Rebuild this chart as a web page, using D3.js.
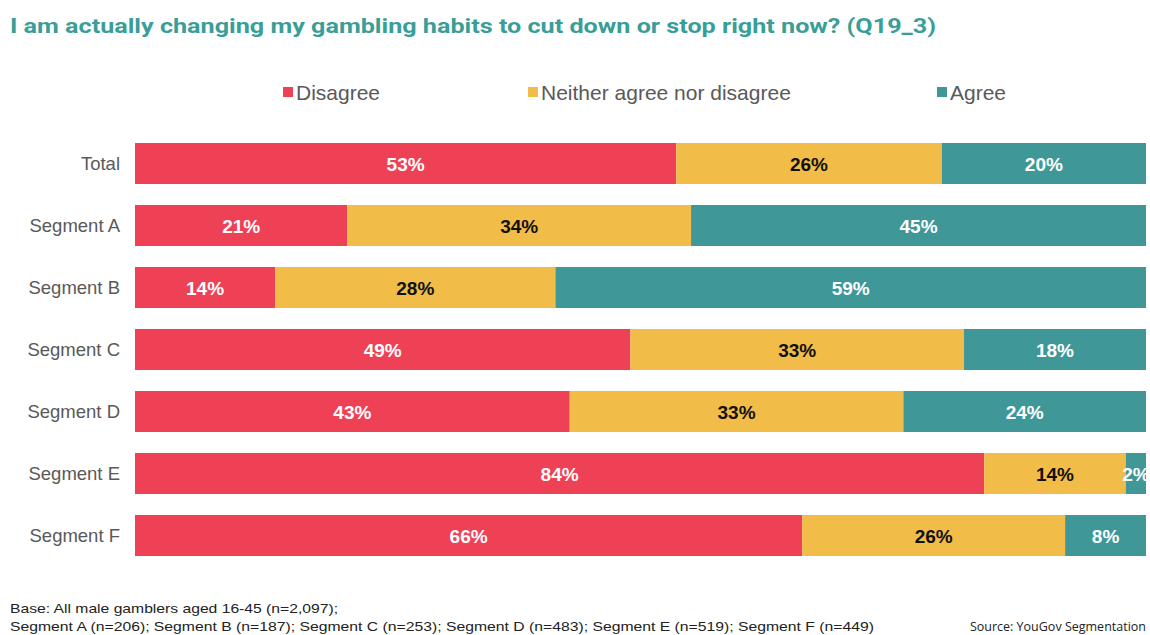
<!DOCTYPE html>
<html>
<head>
<meta charset="utf-8">
<script src="https://cdn.jsdelivr.net/npm/d3@7"></script>
<style>
  body { margin: 0; background: #fff; }
  svg { display: block; }
</style>
</head>
<body>
<svg id="chart" width="1150" height="635"></svg>
<script>
const categories = ["Total", "Segment A", "Segment B", "Segment C", "Segment D", "Segment E", "Segment F"];
const seriesNames = ["Disagree", "Neither agree nor disagree", "Agree"];
const disagree = [53, 21, 14, 49, 43, 84, 66];
const neither  = [26, 34, 28, 33, 33, 14, 26];
const agree    = [20, 45, 59, 18, 24, 2, 8];
const colors = ["#EF4156", "#F1BC47", "#3F9897"];
const labelColors = ["#ffffff", "#111111", "#ffffff"];
const title = "I am actually changing my gambling habits to cut down or stop right now? (Q19_3)";
const baseNote1 = "Base: All male gamblers aged 16-45 (n=2,097);";
const baseNote2 = "Segment A (n=206); Segment B (n=187); Segment C (n=253); Segment D (n=483); Segment E (n=519); Segment F (n=449)";
const sourceNote = "Source: YouGov Segmentation";

const svg = d3.select("#chart");

const rows = categories.map((c, i) => ({
  cat: c,
  "Disagree": disagree[i],
  "Neither agree nor disagree": neither[i],
  "Agree": agree[i]
}));

const stack = d3.stack().keys(seriesNames).offset(d3.stackOffsetExpand);
const stacked = stack(rows);

const x = d3.scaleLinear().domain([0, 1]).range([135, 1146]);
const y = d3.scaleBand().domain(categories).range([132.5, 566.5])
  .paddingInner(21 / 62).paddingOuter(10.5 / 62);

// title
svg.append("text")
  .attr("x", 10).attr("y", 33)
  .attr("font-family", "Roboto, 'Liberation Sans', sans-serif")
  .attr("font-weight", "bold")
  .attr("font-size", 20)
  .attr("fill", "#3A9E98")
  .attr("textLength", 926).attr("lengthAdjust", "spacingAndGlyphs")
  .text(title);

// legend
const legendPos = [283, 528, 937];
seriesNames.forEach((s, i) => {
  const g = svg.append("g");
  g.append("rect").attr("x", legendPos[i]).attr("y", 87).attr("width", 10).attr("height", 10).attr("fill", colors[i]);
  g.append("text").attr("x", legendPos[i] + 13).attr("y", 100)
    .attr("font-family", "'Liberation Sans', Arial, sans-serif")
    .attr("font-size", 21).attr("fill", "#595959").text(s);
});

// bars
const clip = svg.append("defs").append("clipPath").attr("id", "plotclip");
clip.append("rect").attr("x", 0).attr("y", 0).attr("width", 1148).attr("height", 635);

const layers = svg.append("g").attr("clip-path", "url(#plotclip)")
  .selectAll("g.layer").data(stacked).join("g").attr("class", "layer");

layers.each(function(layer, li) {
  const g = d3.select(this);
  g.selectAll("rect").data(layer).join("rect")
    .attr("x", d => x(d[0]))
    .attr("y", d => y(d.data.cat))
    .attr("width", d => x(d[1]) - x(d[0]))
    .attr("height", y.bandwidth())
    .attr("fill", colors[li]);
  g.selectAll("text").data(layer).join("text")
    .attr("x", d => (x(d[0]) + x(d[1])) / 2)
    .attr("y", d => y(d.data.cat) + y.bandwidth() / 2 + 7)
    .attr("text-anchor", "middle")
    .attr("font-family", "'Liberation Sans', Arial, sans-serif")
    .attr("font-weight", "bold")
    .attr("font-size", 19)
    .attr("fill", labelColors[li])
    .text(d => d.data[layer.key] + "%");
});

// category axis labels
svg.append("g").selectAll("text").data(categories).join("text")
  .attr("x", 120)
  .attr("y", d => y(d) + y.bandwidth() / 2 + 6.5)
  .attr("text-anchor", "end")
  .attr("font-family", "'Liberation Sans', Arial, sans-serif")
  .attr("font-size", 18.5)
  .attr("fill", "#595959")
  .text(d => d);

// footer
const foot = svg.append("g")
  .attr("font-family", "'Liberation Sans Narrow', 'Liberation Sans', Arial, sans-serif")
  .attr("font-size", 13).attr("fill", "#222");
foot.append("text").attr("x", 10).attr("y", 613).attr("textLength", 328).attr("lengthAdjust", "spacingAndGlyphs").text(baseNote1);
foot.append("text").attr("x", 10).attr("y", 631).attr("textLength", 864).attr("lengthAdjust", "spacingAndGlyphs").text(baseNote2);
svg.append("text").attr("x", 1146).attr("y", 631).attr("text-anchor", "end")
  .attr("font-family", "'Open Sans', 'Noto Sans', sans-serif")
  .attr("font-size", 12.5).attr("fill", "#222")
  .text(sourceNote);
</script>
</body>
</html>
